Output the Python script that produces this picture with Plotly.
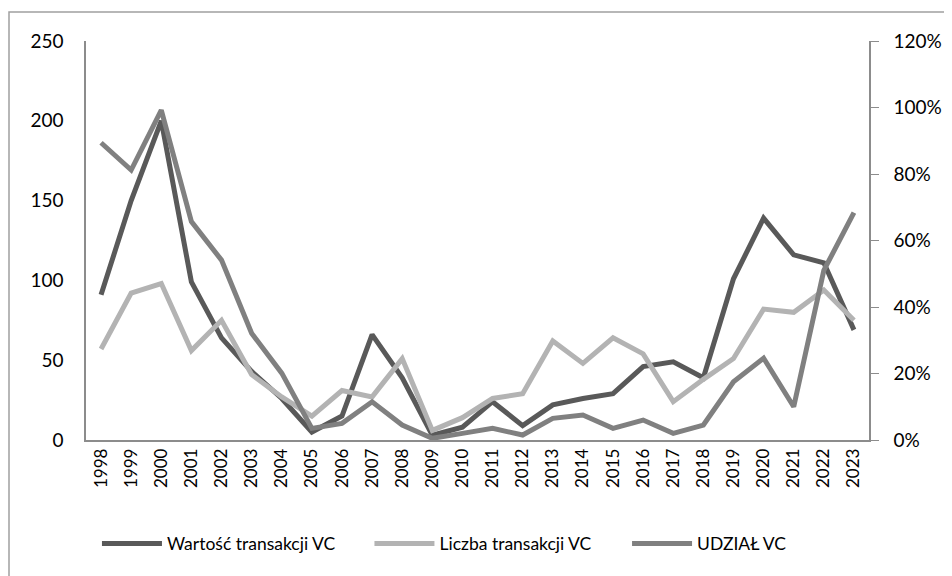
import plotly.graph_objects as go

years = [str(y) for y in range(1998, 2024)]
wartosc = [91, 150, 200, 99, 64, 43, 26, 5, 15, 66, 39, 3, 8, 24, 9, 22, 26, 29, 46, 49, 39, 101, 139, 116, 111, 69]
liczba = [57, 92, 98, 56, 75, 41, 27, 15, 31, 27, 51, 6, 14, 26, 29, 62, 48, 64, 54, 24, 38, 51, 82, 80, 94, 75]
udzial = [89.4, 81.2, 99.2, 65.7, 54.1, 32.1, 20.1, 3.5, 5, 11.5, 4.5, 0.5, 2, 3.5, 1.5, 6.5, 7.5, 3.5, 6, 2, 4.5, 17.5, 24.6, 10, 51, 68.4]

names = ["Wartość transakcji VC", "Liczba transakcji VC", "UDZIAŁ VC"]
colors = ["#595959", "#b3b3b3", "#808080"]

FONT = "Lato"
AX = "#8c8c8c"

fig = go.Figure()
fig.add_trace(go.Scatter(x=years, y=wartosc, name=names[0], mode="lines", legend="legend",
                         line=dict(color=colors[0], width=5)))
fig.add_trace(go.Scatter(x=years, y=liczba, name=names[1], mode="lines", legend="legend2",
                         line=dict(color=colors[1], width=5)))
fig.add_trace(go.Scatter(x=years, y=udzial, name=names[2], mode="lines", yaxis="y2",
                         legend="legend3", line=dict(color=colors[2], width=5)))

# page body has an 8px margin, so the figure is 944x568 and offset accordingly
L, T, PW, PH = 78, 33, 783, 399
leg_common = dict(orientation="h", xanchor="left", y=-0.26, yanchor="middle",
                  itemwidth=60,
                  font=dict(family=FONT, size=17.5, color="#000000"),
                  bgcolor="rgba(0,0,0,0)")
fig.update_layout(
    width=944, height=568,
    margin=dict(l=L, r=944 - L - PW, t=T, b=568 - T - PH, autoexpand=False),
    paper_bgcolor="white", plot_bgcolor="white",
    font=dict(family=FONT, size=19, color="#000000"),
    showlegend=True,
    legend=dict(x=0.014, **leg_common),
    legend2=dict(x=0.362, **leg_common),
    legend3=dict(x=0.691, **leg_common),
    xaxis=dict(type="category", range=[-0.5, 25.5], showgrid=False, zeroline=False,
               showline=True, linecolor=AX, linewidth=1.5, ticks="", automargin=False,
               tickangle=-90, tickfont=dict(family=FONT, size=17)),
    yaxis=dict(range=[0, 250], dtick=50, showgrid=False, zeroline=False, automargin=False,
               showline=True, linecolor=AX, linewidth=1.5, ticks="",
               ticklabelstandoff=17, tickfont=dict(family=FONT, size=19)),
    yaxis2=dict(range=[0, 120], dtick=20, ticksuffix="%", overlaying="y", side="right",
                showgrid=False, zeroline=False, showline=True, linecolor=AX, linewidth=1.5,
                ticks="outside", ticklen=8, tickcolor=AX, ticklabelstandoff=11, automargin=False,
                tickfont=dict(family=FONT, size=19)),
    shapes=[dict(type="rect", xref="paper", yref="paper",
                 x0=(1 - L) / PW, x1=(1000 - L) / PW,
                 y0=-0.6, y1=1 + (T - 4) / PH,
                 line=dict(color="#a0a0a0", width=1.5), fillcolor="rgba(0,0,0,0)",
                 layer="below")],
)

fig.write_html("out.html")
